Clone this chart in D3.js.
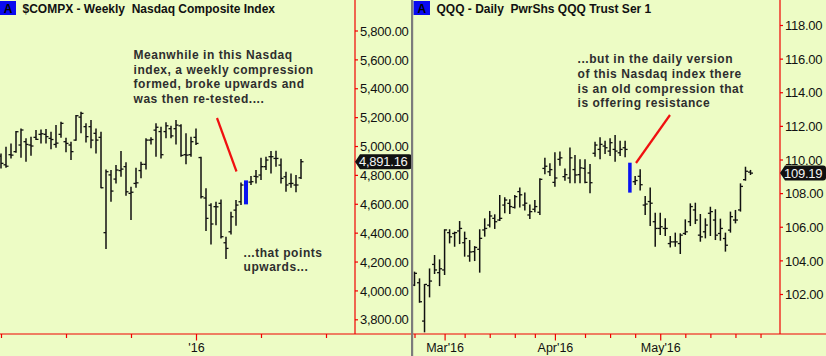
<!DOCTYPE html>
<html><head><meta charset="utf-8">
<script src="https://cdn.jsdelivr.net/npm/d3@7"></script>
<style>
html,body{margin:0;padding:0;background:#EDFCC5;}
svg{display:block;font-family:Arial,"Liberation Sans",sans-serif;}
</style>
</head><body><svg id="c" width="826" height="356"></svg>
<script>
// ---------- LEFT: $COMPX weekly ----------
const leftTitle = "$COMPX - Weekly  Nasdaq Composite Index";
const wOpen  = [4930,4870,4940,4961,5007,5030,5007,5060,5081,5081,5053,5011,5081,5030,5007,5041,5200,5134,5134,5088,5060,4400,4800,4771,4830,4857,4672,4741,4830,4873,5041,5110,5100,5100,5120,5120,5140,4940,4940,5060,4920,4640,4590,4580,4603,4330,4406,4556,4614,4600,4750,4790,4799,4857,4926,4914,4868,4787,4740,4730,4780];
const wHigh  = [4949,4995,5018,5104,5122,5053,5065,5111,5115,5118,5099,5145,5168,5058,5030,5215,5238,5157,5180,5122,5099,4838,4834,4868,4965,4887,4718,4850,4891,5053,5060,5157,5134,5164,5141,5180,5150,5088,5065,5122,4926,4707,4603,4614,4630,4372,4545,4626,4748,4762,4792,4834,4919,4926,4965,4968,4914,4822,4810,4799,4910];
const wLow   = [4845,4850,4914,4954,4919,4891,4933,5041,5018,5018,4977,4988,5058,4956,4903,5037,5088,5025,4984,4949,4707,4286,4614,4741,4787,4656,4487,4711,4776,4838,5011,4926,4914,5053,5053,5011,4926,4873,4926,5007,4637,4411,4318,4452,4360,4217,4388,4448,4591,4596,4730,4741,4764,4834,4810,4857,4741,4683,4711,4679,4771];
const wClose = [4880,4860,4937,5099,5111,5011,5000,5046,5085,5065,5045,5020,5157,5018,4961,5210,5226,5065,5041,5041,4711,4822,4688,4834,4840,4683,4680,4745,4873,5041,5045,5130,4940,5140,5070,5145,4935,4937,5030,5018,4649,4499,4460,4579,4372,4291,4510,4591,4730,4750,4753,4787,4857,4903,4926,4914,4776,4730,4741,4730,4891.16];
const wCompression = 49;
const wLast = 4891.16;
const wYTicks = [3800,4000,4200,4400,4600,4800,5000,5200,5400,5600,5800];
const wXTicks = [0,13,26,39,52,65];
const wXLabels = {39:"'16"};
const leftNote = ["Meanwhile in this Nasdaq","index, a weekly compression","formed, broke upwards and","was then re-tested...."];
const leftNote2 = ["...that points","upwards..."];

// ---------- RIGHT: QQQ daily ----------
const rightTitle = "QQQ - Daily  PwrShs QQQ Trust Ser 1";
const dOpen  = [102.53,102.67,100.39,102.5,103.76,103.27,103.43,105.65,105.6,105.75,105.05,104.26,104.52,104.66,105.81,106.10,106.50,106.40,107.29,107.39,107.15,108.09,107.29,106.70,107.04,106.86,109.47,109.27,108.64,110.01,108.98,108.9,109.4,109.1,109.47,109.2,110.37,110.6,110.8,110.5,110.6,110.4,110.7,109.0,108.68,109.0,107.29,107.5,106.3,105.9,105.9,105.0,105.1,105.0,105.6,106.3,107.0,105.5,105.7,106.8,106.4,105.6,105.3,105.8,106.4,107.0,108.8,109.25];
const dHigh  = [103.33,102.93,102.59,103.52,104.32,104.06,105.85,105.85,105.71,106.34,105.71,105.21,104.85,105.85,106.50,106.94,106.74,107.89,107.75,107.63,107.89,108.34,108.03,107.33,107.59,108.88,110.11,109.77,110.43,110.47,109.47,110.72,110.27,110.01,110.01,109.73,111.06,111.32,111.12,111.26,111.46,111.12,111.12,109.81,109.02,109.42,107.83,108.34,106.84,106.84,106.50,105.45,105.65,105.61,106.44,107.39,107.43,106.76,106.50,107.19,107.04,106.48,105.65,106.90,107.00,108.58,109.57,109.38];
const dLow   = [102.47,101.48,99.72,101.80,103.19,102.47,103.13,105.01,104.81,104.97,104.22,103.92,103.96,103.27,105.41,105.96,105.87,106.34,106.80,106.76,107.09,107.15,106.96,106.46,106.86,106.70,109.12,109.02,108.38,109.63,108.74,108.58,108.58,108.58,108.58,107.99,110.17,110.01,110.33,110.21,109.87,110.21,110.13,108.03,108.48,108.15,106.70,106.04,104.81,105.51,105.45,104.77,104.81,104.38,105.51,106.04,106.16,105.11,105.31,105.45,105.21,105.17,104.52,105.65,106.20,106.90,108.74,109.08];
const dClose = [103.23,101.54,102.57,102.77,103.43,103.5,105.81,105.4,105.65,105.9,105.3,104.5,104.77,105.31,105.9,106.64,106.3,106.5,107.59,107.2,107.79,107.9,107.4,106.9,107.2,108.82,109.6,109.4,108.9,110.1,109.1,110.1,109.08,109.5,108.64,108.62,110.86,110.9,110.7,111.0,110.5,110.6,110.6,109.0,108.75,108.5,107.35,107.4,105.9,106.0,105.9,105.1,105.1,105.5,105.7,107.2,106.4,105.4,106.1,106.9,105.5,105.9,104.9,106.6,106.4,108.4,109.3,109.19];
const dCompression = 43;
const dLast = 109.19;
const dYTicks = [102,104,106,108,110,112,114,116,118];
const dXTicks = [0,6,10,15,20,24,28,34,39,44,49,54,59,64,69];
const dXLabels = {6:"Mar'16",28:"Apr'16",49:"May'16"};
const rightNote = ["...but in the daily version","of this Nasdaq index there","is an old compression that","is offering resistance"];

// ---------- drawing ----------
const svg = d3.select("#c");
const BG = "#EDFCC5", RED = "#F00000", INK = "#111";
svg.append("rect").attr("width",826).attr("height",356).attr("fill",BG);
const axisY = 334;

function panel(cfg){
  const g = svg.append("g");
  const {x, y, O, Hh, L, C, comp, last, yTicks, xTicks, xLabels, axisX, left, right, fmt} = cfg;
  // clip
  const cid = "clip"+left;
  svg.append("clipPath").attr("id",cid).append("rect")
    .attr("x",left).attr("y",0).attr("width",axisX-left).attr("height",axisY);
  const bars = g.append("g").attr("clip-path",`url(#${cid})`);
  const idx = d3.range(O.length).filter(i=>i!==comp);
  bars.selectAll("line.hl").data(idx).join("line")
    .attr("x1",i=>x(i)).attr("x2",i=>x(i))
    .attr("y1",i=>y(Hh[i])).attr("y2",i=>y(L[i]))
    .attr("stroke",INK).attr("stroke-width",1.5);
  bars.selectAll("line.o").data(idx).join("line")
    .attr("x1",i=>x(i)-2.5).attr("x2",i=>x(i))
    .attr("y1",i=>y(O[i])).attr("y2",i=>y(O[i]))
    .attr("stroke",INK).attr("stroke-width",1.3);
  bars.selectAll("line.c").data(idx).join("line")
    .attr("x1",i=>x(i)).attr("x2",i=>x(i)+2.5)
    .attr("y1",i=>y(C[i])).attr("y2",i=>y(C[i]))
    .attr("stroke",INK).attr("stroke-width",1.3);
  // compression bar
  bars.append("rect").attr("x",x(comp)-2).attr("width",cfg.compW)
    .attr("y",y(Hh[comp])).attr("height",y(L[comp])-y(Hh[comp]))
    .attr("fill","#0A14F0");
  // y axis
  g.append("line").attr("x1",axisX).attr("x2",axisX).attr("y1",0).attr("y2",axisY)
    .attr("stroke",RED).attr("stroke-width",1.2);
  const ya = g.append("g").attr("transform",`translate(${axisX},0)`)
    .call(d3.axisRight(y).tickValues(yTicks).tickSize(3).tickSizeOuter(0).tickFormat(fmt));
  ya.select(".domain").remove();
  ya.selectAll(".tick line").attr("stroke",RED).attr("stroke-width",1.2);
  ya.selectAll(".tick text").attr("x",5).attr("fill",INK)
    .style("font-size","13px").style("letter-spacing","-0.25px").attr("dy","0.36em");
  // x axis
  g.append("line").attr("x1",left).attr("x2",right).attr("y1",axisY).attr("y2",axisY)
    .attr("stroke",RED).attr("stroke-width",1.2);
  const xa = g.append("g").attr("transform",`translate(0,${axisY})`)
    .call(d3.axisBottom(x).tickValues(xTicks).tickSize(4).tickSizeOuter(0).tickFormat(d=>xLabels[d]||""));
  xa.select(".domain").remove();
  xa.selectAll(".tick line").attr("stroke",RED).attr("stroke-width",1.2)
    .attr("y2",d=>xLabels[d]?6.5:4);
  xa.selectAll(".tick text").attr("y",9).attr("fill",INK).style("font-size","12.5px");
  // price tag
  const ty = y(last), th = 15, tw = cfg.tagW;
  g.append("path")
    .attr("d",`M${axisX},${ty} L${axisX+5},${ty-th/2} L${axisX+tw-3},${ty-th/2} Q${axisX+tw},${ty-th/2} ${axisX+tw},${ty-th/2+3} L${axisX+tw},${ty+th/2-3} Q${axisX+tw},${ty+th/2} ${axisX+tw-3},${ty+th/2} L${axisX+5},${ty+th/2} Z`)
    .attr("fill","#111");
  g.append("text").attr("x",axisX+4).attr("y",ty).attr("dy","0.36em")
    .attr("fill","#F4F4F4").style("font-size","13px").style("letter-spacing","-0.25px")
    .text(fmt(last));
  return g;
}

const fmtL = d3.format(",.2f"), fmtR = d3.format(".2f");
const xL = d3.scaleLinear().domain([0,60]).range([1,301]);
const yL = d3.scaleLinear().domain([3800,5800]).range([319.3,30.5]);
const xR = d3.scaleLinear().domain([0,67]).range([414.5,750.5]);
const yR = d3.scaleLinear().domain([102,118]).range([294,25]);

panel({x:xL,y:yL,O:wOpen,Hh:wHigh,L:wLow,C:wClose,comp:wCompression,last:wLast,
  yTicks:wYTicks,xTicks:wXTicks,xLabels:wXLabels,axisX:355,left:0,right:411,fmt:fmtL,compW:4,tagW:57});
panel({x:xR,y:yR,O:dOpen,Hh:dHigh,L:dLow,C:dClose,comp:dCompression,last:dLast,
  yTicks:dYTicks,xTicks:dXTicks,xLabels:dXLabels,axisX:780,left:413,right:826,fmt:fmtR,compW:3.5,tagW:46});

// annotation lines
svg.append("line").attr("x1",217).attr("y1",118).attr("x2",236.5).attr("y2",171.5)
  .attr("stroke","#F01010").attr("stroke-width",2.2);
svg.append("line").attr("x1",636).attr("y1",163).attr("x2",670).attr("y2",115)
  .attr("stroke","#F01010").attr("stroke-width",2.2);

// annotation text
function note(lines,x,y0,dy){
  const t = svg.append("text").attr("fill","#2E2E2E").style("font-size","12px")
    .style("font-weight","bold").style("letter-spacing","0.55px");
  lines.forEach((s,i)=>t.append("tspan").attr("x",x).attr("y",y0+i*dy).text(s));
}
note(leftNote,133.5,59,14.7);
note(leftNote2,243.5,256.7,14);
note(rightNote,577.5,63.3,14.7);

// headers
function header(x0,title,boxW){
  svg.append("rect").attr("x",x0).attr("y",1).attr("width",boxW).attr("height",14).attr("fill","#0A0AF0");
  svg.append("text").attr("x",x0+boxW/2).attr("y",12.5).attr("text-anchor","middle")
    .style("font-size","12px").style("font-weight","bold").attr("fill","#000").text("A");
  svg.append("text").attr("x",x0+boxW+6.5).attr("y",12.5).style("font-size","12px")
    .style("font-weight","bold").style("white-space","pre").attr("fill","#111").text(title);
}
header(0,leftTitle,16);
header(413.5,rightTitle,16.5);

// divider
svg.append("rect").attr("x",411).attr("y",0).attr("width",2.2).attr("height",356).attr("fill","#7C7C7C");
</script></body></html>
